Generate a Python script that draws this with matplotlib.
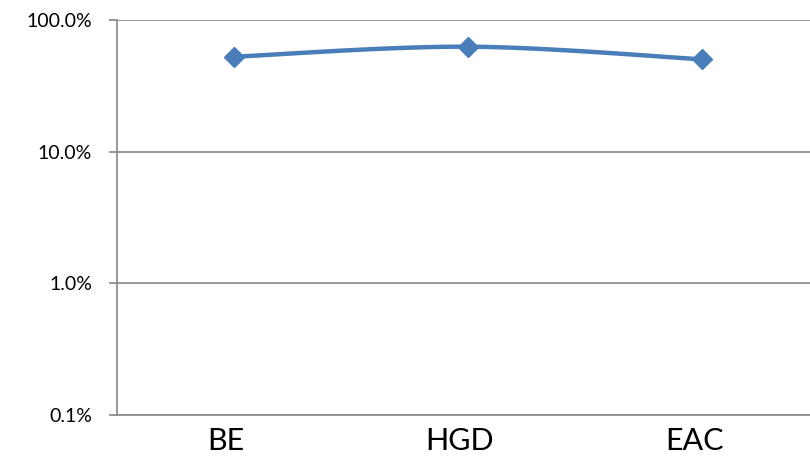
import numpy as np
import matplotlib.pyplot as plt
import matplotlib.transforms as mtransforms
from matplotlib.ticker import FixedLocator, FuncFormatter, NullLocator

plt.rcParams['font.family'] = ['Lato', 'DejaVu Sans']

# data (shown in %)
categories = ['BE', 'HGD', 'EAC']
values = [52.6, 62.7, 50.3]

blue = '#4A7EBB'
gray = '#868686'


def smooth(xs, ys, n=40):
    # Excel-style smoothed line: cubic bezier through the points
    # (in log space, because the axis is logarithmic)
    ly = np.log10(ys)
    px, py = [], []
    for i in range(len(xs) - 1):
        x0, y0 = xs[max(i - 1, 0)], ly[max(i - 1, 0)]
        x1, y1 = xs[i], ly[i]
        x2, y2 = xs[i + 1], ly[i + 1]
        x3, y3 = xs[min(i + 2, len(xs) - 1)], ly[min(i + 2, len(xs) - 1)]
        c1 = (x1 + (x2 - x0) / 6, y1 + (y2 - y0) / 6)
        c2 = (x2 - (x3 - x1) / 6, y2 - (y3 - y1) / 6)
        t = np.linspace(0, 1, n)
        bx = (1-t)**3*x1 + 3*(1-t)**2*t*c1[0] + 3*(1-t)*t**2*c2[0] + t**3*x2
        by = (1-t)**3*y1 + 3*(1-t)**2*t*c1[1] + 3*(1-t)*t**2*c2[1] + t**3*y2
        px.extend(bx)
        py.extend(by)
    return np.array(px), 10 ** np.array(py)


fig = plt.figure(figsize=(8.1, 4.63), dpi=100)
ax = fig.add_axes([117 / 810, (463 - 415) / 463, 702 / 810, 395 / 463])

x = np.arange(len(categories))
sx, sy = smooth(x, values)
ax.plot(sx, sy, color=blue, lw=3.2, solid_capstyle='round', zorder=3)
ax.plot(x, values, ls='none', marker='D', ms=10, color=blue, zorder=4)

ax.set_yscale('log')
ax.set_ylim(0.1, 100)
ax.set_xlim(-0.5, len(categories) - 0.5)
ax.yaxis.set_major_locator(FixedLocator([0.1, 1, 10, 100]))
ax.yaxis.set_minor_locator(NullLocator())
ax.yaxis.set_major_formatter(FuncFormatter(lambda v, p: f'{v:.1f}%'))
ax.set_xticks(x)
ax.set_xticklabels(categories)

ax.grid(axis='y', color=gray, lw=1.2)
ax.set_axisbelow(True)
for s in ['top', 'right']:
    ax.spines[s].set_visible(False)
for s in ['left', 'bottom']:
    ax.spines[s].set_color(gray)
    ax.spines[s].set_linewidth(1.2)

ax.tick_params(axis='y', length=6, width=1.2, color=gray, labelsize=14, pad=12)
ax.tick_params(axis='x', length=0, labelsize=22, pad=9)

# category labels sit a little left of the points in the original
shift = mtransforms.ScaledTranslation(-8 / 100, 0, fig.dpi_scale_trans)
for lbl in ax.get_xticklabels():
    lbl.set_transform(lbl.get_transform() + shift)

fig.savefig('out.png', dpi=100)
